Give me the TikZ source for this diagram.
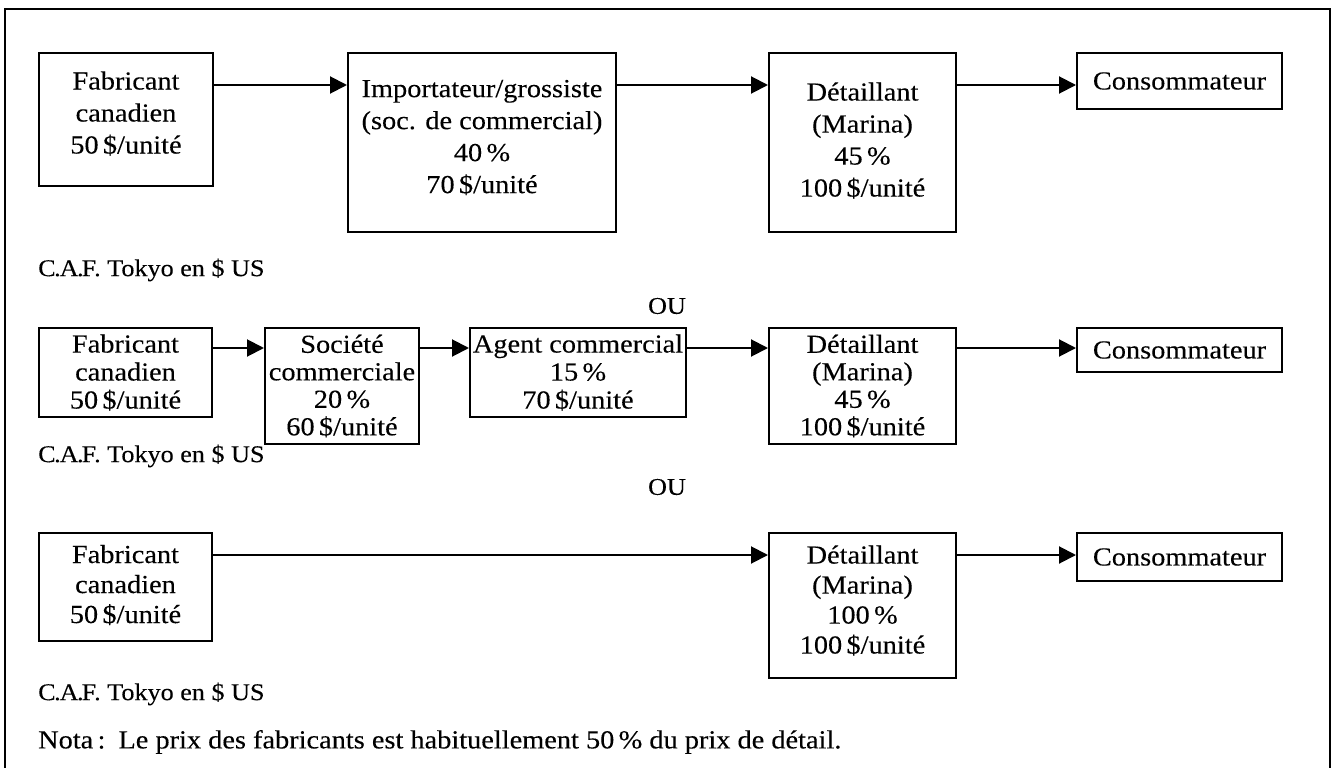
\documentclass[tikz,border=0pt]{standalone}
\usepackage{fontspec}
\setmainfont{Liberation Serif}[FakeStretch=1.09,FakeBold=0.2]
\usetikzlibrary{arrows.meta}
\begin{document}
\begin{tikzpicture}[x=1pt,y=-1pt,
  every node/.style={inner sep=0pt},
  sp/.style={font=\fontsize{26}{#1}\selectfont},
  bx/.style 2 args={draw, line width=2pt, align=center, anchor=north west,
                    minimum width=#1, minimum height=#2},
  arr/.style={line width=2pt, -{Triangle[length=17pt,width=17pt]}},
  small/.style={font=\fontsize{24}{26}\selectfont},
  txt/.style={small, anchor=west},
  frame/.style={line width=2.8pt}]
\useasboundingbox (0,0) rectangle (1334,768);
% frame
\coordinate (fbl) at (5,768);
\coordinate (ftl) at (5,9);
\coordinate (ftr) at (1330,9);
\coordinate (fbr) at (1330,768);
\draw[frame] (fbl) -- (ftl) -- (ftr) -- (fbr);

% row 1
\node[bx={174pt}{133pt}, sp=32] (fab1) at (38,52) {Fabricant\\canadien\\50\,\$/unité\rule[-14pt]{0pt}{14pt}};
\node[bx={268pt}{179pt}, sp=32] (imp) at (347,52) {Importateur/grossiste\\(soc. de commercial)\\40\,\%\\70\,\$/unité\rule[-12pt]{0pt}{12pt}};
\node[bx={187pt}{179pt}, sp=32] (det1) at (768,52) {Détaillant\\(Marina)\\45\,\%\\100\,\$/unité\rule[-6pt]{0pt}{6pt}};
\node[bx={205pt}{56pt}, sp=31] (cons1) at (1076,52) {Consommateur};
\coordinate (r1) at (0,85);
\draw[arr] (fab1.east |- r1) -- (imp.west |- r1);
\draw[arr] (imp.east |- r1) -- (det1.west |- r1);
\draw[arr] (det1.east |- r1) -- (cons1.west |- r1);
\node[txt] (caf1) at (38,270) {C\kern-1.5pt.\kern-1ptA\kern-1.5pt.\kern-2ptF\kern-2pt. Tokyo en \$ US};
\node[small] (ou1) at (667,306) {OU};

% row 2
\node[bx={173pt}{89pt}, sp=28] (fab2) at (38,327) {Fabricant\\canadien\\50\,\$/unité};
\node[bx={154pt}{116pt}, sp=27.5] (soc) at (264,327) {Société\\commerciale\\20\,\%\\60\,\$/unité};
\node[bx={216pt}{89pt}, sp=28] (agent) at (469,327) {Agent commercial\\15\,\%\\70\,\$/unité};
\node[bx={187pt}{116pt}, sp=27.5] (det2) at (768,327) {Détaillant\\(Marina)\\45\,\%\\100\,\$/unité};
\node[bx={205pt}{44pt}, sp=28] (cons2) at (1076,327) {Consommateur};
\coordinate (r2) at (0,348);
\draw[arr] (fab2.east |- r2) -- (soc.west |- r2);
\draw[arr] (soc.east |- r2) -- (agent.west |- r2);
\draw[arr] (agent.east |- r2) -- (det2.west |- r2);
\draw[arr] (det2.east |- r2) -- (cons2.west |- r2);
\node[txt] (caf2) at (38,456) {C\kern-1.5pt.\kern-1ptA\kern-1.5pt.\kern-2ptF\kern-2pt. Tokyo en \$ US};
\node[small] (ou2) at (667,487) {OU};

% row 3
\node[bx={173pt}{108pt}, sp=30] (fab3) at (38,532) {Fabricant\\canadien\\50\,\$/unité\rule[-6pt]{0pt}{6pt}};
\node[bx={187pt}{145pt}, sp=30] (det3) at (768,532) {Détaillant\\(Marina)\\100\,\%\\100\,\$/unité\rule[-12pt]{0pt}{12pt}};
\node[bx={205pt}{48pt}, sp=30] (cons3) at (1076,532) {Consommateur};
\coordinate (r3) at (0,555);
\draw[arr] (fab3.east |- r3) -- (det3.west |- r3);
\draw[arr] (det3.east |- r3) -- (cons3.west |- r3);
\node[txt] (caf3) at (38,694) {C\kern-1.5pt.\kern-1ptA\kern-1.5pt.\kern-2ptF\kern-2pt. Tokyo en \$ US};
\node[anchor=west, sp=28] (nota) at (38,742) {Nota\,:\enspace Le prix des fabricants est habituellement 50\,\% du prix de détail.};
\end{tikzpicture}
\end{document}
